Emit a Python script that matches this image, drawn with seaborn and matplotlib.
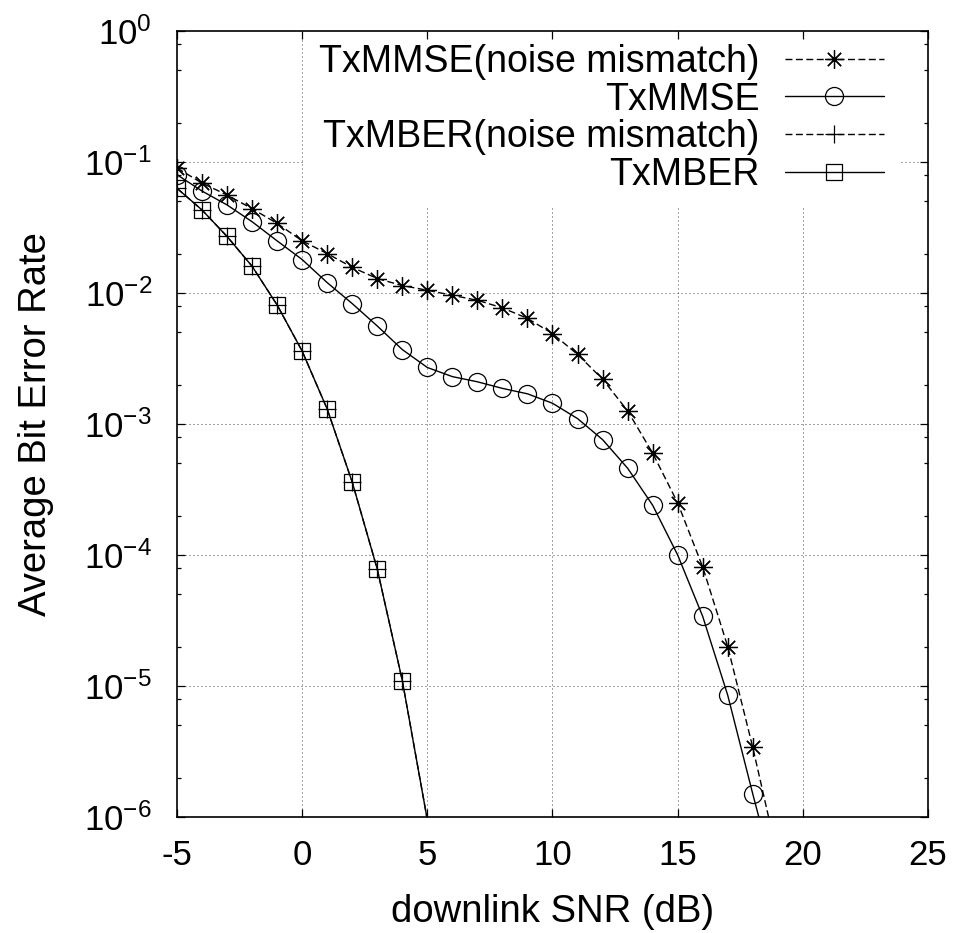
import matplotlib
matplotlib.use("Agg")
import matplotlib.pyplot as plt
import seaborn as sns
import pandas as pd
from matplotlib.ticker import FixedLocator, NullFormatter, NullLocator

sns.set_style("ticks")
plt.rcParams["font.family"] = ["Liberation Sans", "DejaVu Sans"]
plt.rcParams["mathtext.fontset"] = "custom"
plt.rcParams["mathtext.rm"] = "Liberation Sans"
plt.rcParams["mathtext.it"] = "Liberation Sans:italic"
plt.rcParams["mathtext.bf"] = "Liberation Sans:bold"
plt.rcParams["axes.unicode_minus"] = False
plt.rcParams["text.color"] = "black"
plt.rcParams["axes.labelcolor"] = "black"
plt.rcParams["xtick.color"] = "black"
plt.rcParams["ytick.color"] = "black"

# ---------------- data ----------------
labels = ["TxMMSE(noise mismatch)", "TxMMSE", "TxMBER(noise mismatch)", "TxMBER"]

# SNR points with markers; the last entry of each list is where the curve leaves the plot
snr_mmse = [-5, -4, -3, -2, -1, 0, 1, 2, 3, 4, 5, 6, 7, 8, 9, 10, 11, 12, 13, 14, 15, 16, 17, 18, 19]
ber_mmse_mismatch = [0.090, 0.069, 0.056, 0.044, 0.034, 0.025, 0.020, 0.0157, 0.0129, 0.0114,
                     0.0105, 0.0096, 0.0088, 0.0077, 0.0064, 0.0049, 0.0034, 0.0022, 0.00126,
                     0.00060, 0.00025, 8.1e-5, 2.0e-5, 3.4e-6, 4.9e-7]
ber_mmse = [0.080, 0.060, 0.047, 0.035, 0.025, 0.018, 0.012, 0.0083, 0.0056, 0.0037,
            0.0027, 0.0023, 0.0021, 0.00187, 0.0017, 0.00144, 0.0011, 0.00076, 0.00046,
            0.00024, 1.0e-4, 3.4e-5, 8.5e-6, 1.5e-6, 2.8e-7]
snr_mber = [-5, -4, -3, -2, -1, 0, 1, 2, 3, 4, 5]
ber_mber_mismatch = [0.063, 0.043, 0.027, 0.016, 0.0081, 0.0036, 0.0013, 0.00036, 7.8e-5, 1.1e-5, 9.5e-7]
ber_mber = [0.063, 0.043, 0.027, 0.016, 0.0081, 0.0036, 0.0013, 0.00036, 7.8e-5, 1.1e-5, 9.5e-7]

x_ticks = [-5, 0, 5, 10, 15, 20, 25]
y_ticks = [1e-6, 1e-5, 1e-4, 1e-3, 1e-2, 1e-1, 1e0]
y_minor_subs = [2, 5, 8]
# ----------------------------------------------------------------

fig = plt.figure(figsize=(9.58, 9.33), dpi=100)
ax = fig.add_axes([177 / 958, 1 - 817 / 933, (928 - 177) / 958, (817 - 31) / 933])
ax.set_yscale("log")

series = [
    (snr_mmse, ber_mmse_mismatch, (8, 2, 0), 13.5, (0, (5, 2.5)), labels[0]),
    (snr_mmse, ber_mmse, "o", 13.0, "-", labels[1]),
    (snr_mber, ber_mber_mismatch, "+", 12.5, (0, (5, 2.5)), labels[2]),
    (snr_mber, ber_mber, "s", 12.0, "-", labels[3]),
]

for xs, ys, mk, ms, ls, lab in series:
    df = pd.DataFrame({"snr": xs, "ber": ys})
    sns.lineplot(data=df, x="snr", y="ber", ax=ax, color="black", lw=1.0,
                 linestyle=ls, marker=mk, markersize=ms,
                 markerfacecolor="none", markeredgecolor="black",
                 markeredgewidth=0.9, markevery=slice(0, len(xs) - 1),
                 label=lab, estimator=None, errorbar=None, sort=False)

ax.set_xlim(-5, 25)
ax.set_ylim(1e-6, 1)
ax.xaxis.set_major_locator(FixedLocator(x_ticks))
ax.xaxis.set_minor_locator(NullLocator())
ax.yaxis.set_major_locator(FixedLocator(y_ticks))
minor = [s * d for d in y_ticks[:-1] for s in y_minor_subs]
ax.yaxis.set_minor_locator(FixedLocator(minor))
ax.yaxis.set_minor_formatter(NullFormatter())

# dotted grid drawn beneath everything (so the opaque key hides it, but not the ticks)
ax.grid(False)
grid_kw = dict(color="0.3", linestyle=(0, (1, 3)), lw=0.72, zorder=0.5)
for v in x_ticks[1:-1]:
    ax.axvline(v, **grid_kw)
for v in y_ticks[1:-1]:
    ax.axhline(v, **grid_kw)
ax.set_axisbelow(False)

for sp in ax.spines.values():
    sp.set_visible(True)
    sp.set_linewidth(1.2)
    sp.set_color("black")
    sp.set_zorder(3)

ax.tick_params(which="both", direction="in", top=True, right=True, color="black", width=0.9)
ax.tick_params(which="major", length=5.5)
ax.tick_params(which="minor", length=3)
ax.tick_params(axis="x", which="major", labelsize=25, pad=16)
ax.tick_params(axis="y", which="major", labelsize=25, pad=18)

ax.set_xlabel("downlink SNR (dB)", fontsize=27.5, labelpad=16)
ax.set_ylabel("Average Bit Error Rate", fontsize=27.5, labelpad=22)

leg = ax.legend(loc="upper right", bbox_to_anchor=((899 - 177) / 751, 1.003),
                bbox_transform=ax.transAxes, markerfirst=False, frameon=True,
                fancybox=False, framealpha=1, edgecolor="none", facecolor="white",
                fontsize=27, handlelength=2.64, handletextpad=0.67,
                labelspacing=0.05, borderpad=0.4, borderaxespad=0)
leg.set_zorder(2.2)
ax.xaxis.set_zorder(2.6)
ax.yaxis.set_zorder(2.6)

fig.savefig("out.png", dpi=100)
